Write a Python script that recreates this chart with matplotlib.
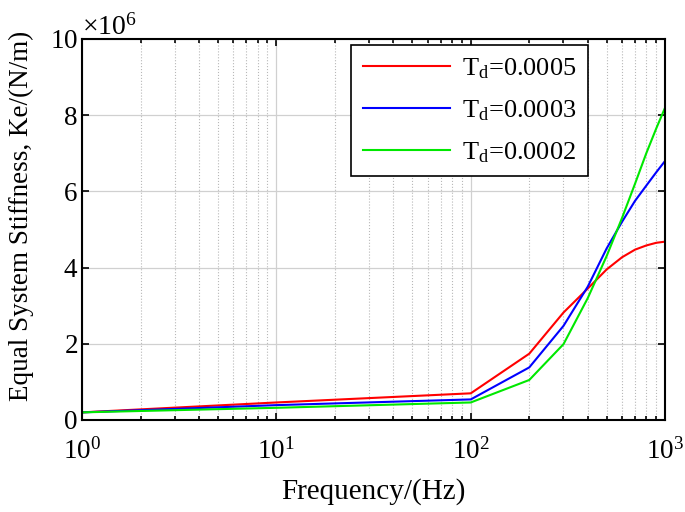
import matplotlib
matplotlib.use("Agg")
import matplotlib.pyplot as plt
import numpy as np
from matplotlib.ticker import ScalarFormatter, LogLocator

plt.rcParams['font.family'] = 'Liberation Serif'
plt.rcParams['mathtext.fontset'] = 'custom'
plt.rcParams['mathtext.rm'] = 'Liberation Serif'
plt.rcParams['mathtext.it'] = 'Liberation Serif:italic'

# data (stiffness in N/m)
freq = [1, 10, 100, 200, 300, 400, 500, 600, 700, 800, 900, 1000]
ke_05 = [0.20e6, 0.46e6, 0.70e6, 1.74e6, 2.82e6, 3.45e6, 3.95e6, 4.27e6, 4.47e6, 4.58e6, 4.65e6, 4.68e6]
ke_03 = [0.20e6, 0.39e6, 0.54e6, 1.38e6, 2.47e6, 3.50e6, 4.50e6, 5.20e6, 5.75e6, 6.15e6, 6.50e6, 6.80e6]
ke_02 = [0.20e6, 0.32e6, 0.46e6, 1.05e6, 1.99e6, 3.20e6, 4.30e6, 5.30e6, 6.20e6, 7.00e6, 7.65e6, 8.20e6]
labels = [r'T$_\mathrm{d}$=0.0005', r'T$_\mathrm{d}$=0.0003', r'T$_\mathrm{d}$=0.0002']

fig = plt.figure(figsize=(6.85, 5.12), dpi=100)
ax = fig.add_axes([0.1197, 0.1797, 0.8513, 0.7443])

ax.plot(freq, ke_05, color='#ff0000', lw=1.5, label=labels[0])
ax.plot(freq, ke_03, color='#0000ff', lw=1.5, label=labels[1])
ax.plot(freq, ke_02, color='#00e800', lw=1.5, label=labels[2])

ax.set_xscale('log')
ax.set_xlim(1, 1000)
ax.set_ylim(0, 10e6)
ax.set_yticks([0, 2e6, 4e6, 6e6, 8e6, 10e6])
fmt = ScalarFormatter(useMathText=True)
fmt.set_powerlimits((6, 6))
ax.yaxis.set_major_formatter(fmt)
ax.yaxis.get_offset_text().set_fontsize(20)

ax.xaxis.set_minor_locator(LogLocator(base=10, subs=np.arange(2, 10)))
ax.grid(True, which='major', color='#d0d0d0', lw=0.9, ls='-')
ax.grid(True, which='minor', axis='x', color='#b8b8b8', lw=0.8, ls=':')
ax.set_axisbelow(True)

ax.tick_params(which='both', direction='in', top=True, right=True, labelsize=19.5, width=1.2)
ax.tick_params(which='major', length=5)
ax.tick_params(which='minor', length=3)
ax.tick_params(axis='y', pad=3)
ax.tick_params(axis='x', pad=13)
for s in ax.spines.values():
    s.set_linewidth(1.5)

ax.set_xlabel('Frequency/(Hz)', fontsize=21, labelpad=10)
ax.set_ylabel('Equal System Stiffness, Ke/(N/m)', fontsize=19.5)
ax.yaxis.set_label_coords(-0.082, 0.535)

leg = ax.legend(loc='upper right', bbox_to_anchor=(0.868, 0.985), fontsize=19,
                fancybox=False, edgecolor='black', framealpha=1,
                handlelength=3.3, labelspacing=0.65, borderpad=0.45,
                handletextpad=0.45, borderaxespad=0)
leg.get_frame().set_linewidth(1.2)

fig.savefig('out.png', dpi=100)
